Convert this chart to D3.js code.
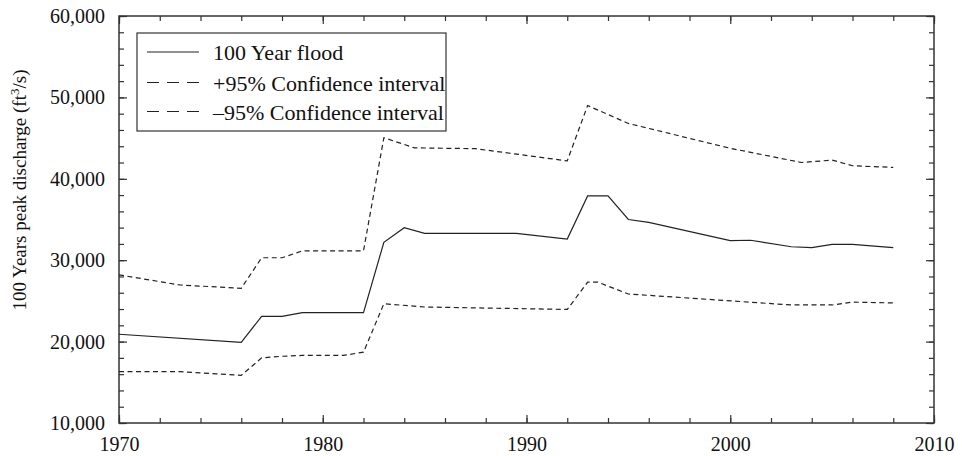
<!DOCTYPE html>
<meta charset="utf-8">
<style>
body { margin: 0; background: #fff; }
text { font-family: "Liberation Serif", "Times New Roman", serif; }
.frame { fill: none; stroke: #333; stroke-width: 1.5px; }
.axis path { display: none; }
.axis line { stroke: #333; stroke-width: 1.2px; }
.axis text { font-size: 20px; fill: #111; font-family: "Liberation Serif", serif; }
.line { fill: none; stroke: #222; stroke-width: 1.2px; }
.dashed { stroke-dasharray: 5,3.5; }
</style>
<svg width="962" height="456"></svg>
<script src="https://cdn.jsdelivr.net/npm/d3@7"></script>
<script>

// 100 year flood
var floodYears = [1970, 1976, 1977, 1978, 1979, 1982, 1983, 1984, 1985, 1989.5, 1992, 1993, 1994, 1995, 1996, 2000, 2001, 2003, 2004, 2005, 2006, 2008];
var floodValues = [20900, 19900, 23100, 23100, 23550, 23550, 32200, 34000, 33300, 33300, 32600, 37900, 37900, 35000, 34650, 32400, 32450, 31650, 31550, 31950, 31950, 31550];

// +95% confidence interval
var upperYears = [1970, 1973, 1976, 1977, 1978, 1979, 1982, 1983, 1984.5, 1987.5, 1992, 1993, 1995, 2000, 2003.5, 2005, 2006, 2008];
var upperValues = [28200, 26950, 26550, 30300, 30300, 31150, 31150, 45050, 43800, 43700, 42200, 49000, 46800, 43750, 42000, 42300, 41600, 41400];

// -95% confidence interval
var lowerYears = [1970, 1973, 1976, 1977, 1978, 1979, 1981, 1982, 1983, 1985, 1992, 1993, 1993.5, 1995, 2003, 2005, 2006, 2008];
var lowerValues = [16300, 16300, 15850, 18000, 18200, 18300, 18300, 18700, 24650, 24250, 23950, 27300, 27300, 25850, 24500, 24500, 24850, 24750];

var xTicks = [1970, 1980, 1990, 2000, 2010];
var yTicks = [10000, 20000, 30000, 40000, 50000, 60000];
var legendLabels = ["100 Year flood", "+95% Confidence interval", "\u201395% Confidence interval"];

var svg = d3.select("svg"),
    margin = {top: 16, right: 28, bottom: 33, left: 119},
    width = svg.attr("width") - margin.left - margin.right,
    height = svg.attr("height") - margin.top - margin.bottom,
    g = svg.append("g").attr("transform", "translate(" + margin.left + "," + margin.top + ")");

var x = d3.scaleLinear().domain([1970, 2010]).range([0, width]),
    y = d3.scaleLinear().domain([10000, 60000]).range([height, 0]);

var xMinor = d3.range(1970, 2011, 2),
    yMinor = d3.range(10000, 60001, 2000);

// minor ticks on all four sides
g.append("g").attr("class", "axis").attr("transform", "translate(0," + height + ")")
    .call(d3.axisBottom(x).tickValues(xMinor).tickSize(-5).tickFormat(""));
g.append("g").attr("class", "axis")
    .call(d3.axisTop(x).tickValues(xMinor).tickSize(-5).tickFormat(""));
g.append("g").attr("class", "axis")
    .call(d3.axisLeft(y).tickValues(yMinor).tickSize(-5).tickFormat(""));
g.append("g").attr("class", "axis").attr("transform", "translate(" + width + ",0)")
    .call(d3.axisRight(y).tickValues(yMinor).tickSize(-5).tickFormat(""));

// major ticks
g.append("g").attr("class", "axis").attr("transform", "translate(0," + height + ")")
    .call(d3.axisBottom(x).tickValues(xTicks).tickSize(-8).tickPadding(14).tickFormat(d3.format("d")));
g.append("g").attr("class", "axis")
    .call(d3.axisTop(x).tickValues(xTicks).tickSize(-8).tickFormat(""));
g.append("g").attr("class", "axis")
    .call(d3.axisLeft(y).tickValues(yTicks).tickSize(-8).tickPadding(14).tickFormat(d3.format(",")));
g.append("g").attr("class", "axis").attr("transform", "translate(" + width + ",0)")
    .call(d3.axisRight(y).tickValues(yTicks).tickSize(-8).tickFormat(""));

g.append("rect")
    .attr("class", "frame")
    .attr("width", width)
    .attr("height", height);

var line = d3.line()
    .x(function(d) { return x(d[0]); })
    .y(function(d) { return y(d[1]); });

var series = [
  {years: lowerYears, values: lowerValues, dashed: true},
  {years: upperYears, values: upperValues, dashed: true},
  {years: floodYears, values: floodValues, dashed: false}
];

g.selectAll(".series")
  .data(series)
  .enter().append("path")
    .attr("class", function(d) { return d.dashed ? "line dashed" : "line"; })
    .attr("d", function(d) { return line(d3.zip(d.years, d.values)); });

// y label
svg.append("text")
    .attr("transform", "translate(26,190) rotate(-90)")
    .attr("text-anchor", "middle")
    .attr("font-family", "Liberation Serif, serif")
    .attr("font-size", "19px")
    .attr("fill", "#111")
    .html("100 Years peak discharge (ft<tspan baseline-shift=\"super\" font-size=\"13px\">3</tspan>/s)");

// legend
var legend = g.append("g").attr("transform", "translate(18,17)");

legend.append("rect")
    .attr("width", 309)
    .attr("height", 98)
    .attr("fill", "#fff")
    .attr("stroke", "#333")
    .attr("stroke-width", 1.2);

var rowY = [19, 49.5, 78.5];

var item = legend.selectAll(".item")
  .data(legendLabels)
  .enter().append("g")
    .attr("transform", function(d, i) { return "translate(0," + rowY[i] + ")"; });

item.append("line")
    .attr("x1", 10).attr("x2", 62)
    .attr("stroke", "#222")
    .attr("stroke-width", 1.2)
    .attr("stroke-dasharray", function(d, i) { return i ? "12,8" : null; });

item.append("text")
    .attr("x", 76)
    .attr("dy", "0.38em")
    .attr("font-family", "Liberation Serif, serif")
    .attr("font-size", "22px")
    .attr("fill", "#111")
    .text(function(d) { return d; });

</script>
